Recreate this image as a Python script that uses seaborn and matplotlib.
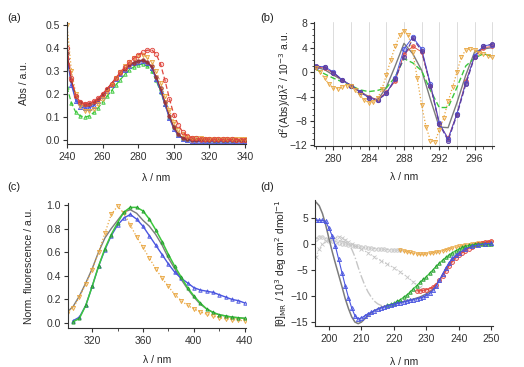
import numpy as np
import matplotlib
matplotlib.use("Agg")
import matplotlib.pyplot as plt
import seaborn as sns
from matplotlib.colors import to_rgba
from matplotlib.ticker import MultipleLocator, FormatStrFormatter

sns.set_theme(style="ticks")
plt.rcParams['font.family'] = ['Liberation Sans', 'DejaVu Sans']
plt.rcParams.update({
    'font.size': 7.5, 'axes.labelsize': 7.5, 'xtick.labelsize': 7.5, 'ytick.labelsize': 7.5,
    'axes.linewidth': 0.8, 'axes.edgecolor': '#333333',
    'xtick.major.size': 3, 'ytick.major.size': 3, 'xtick.minor.size': 1.8, 'ytick.minor.size': 1.8,
    'xtick.major.width': 0.8, 'ytick.major.width': 0.8, 'xtick.minor.width': 0.6, 'ytick.minor.width': 0.6,
    'xtick.color': '#333333', 'ytick.color': '#333333',
    'xtick.major.pad': 2.5, 'ytick.major.pad': 2.0,
})

RED = '#e0463e'
ORANGE = '#e9a640'
GREEN = '#3cc83c'
DGREEN = '#259a30'
BLUE = '#4a55e0'
PURPLE = '#5e3fa0'
BROWN = '#9a3434'
GREY = '#7c7c7c'
LGREY = '#c6c6c6'

# ---------------- (a) absorbance ----------------
wl_a = np.arange(240, 340.1, 2.5)
abs_red = [0.40, 0.27, 0.19, 0.165, 0.158, 0.16, 0.168, 0.182, 0.20, 0.222, 0.245, 0.27, 0.295, 0.318,
           0.338, 0.355, 0.37, 0.382, 0.39, 0.392, 0.375, 0.33, 0.26, 0.18, 0.11, 0.065, 0.035, 0.018,
           0.01, 0.007, 0.005, 0.005, 0.004, 0.004, 0.003, 0.003, 0.003, 0.003, 0.002, 0.002, 0.002]
abs_orange = [0.50, 0.30, 0.20, 0.15, 0.127, 0.125, 0.135, 0.155, 0.18, 0.21, 0.24, 0.27, 0.295, 0.32,
              0.34, 0.355, 0.365, 0.368, 0.36, 0.34, 0.30, 0.25, 0.19, 0.13, 0.08, 0.045, 0.025, 0.015,
              0.01, 0.008, 0.007, 0.006, 0.006, 0.005, 0.005, 0.005, 0.005, 0.004, 0.004, 0.004, 0.004]
abs_green = [0.23, 0.16, 0.12, 0.105, 0.10, 0.105, 0.12, 0.14, 0.165, 0.19, 0.215, 0.24, 0.263, 0.285,
             0.305, 0.318, 0.327, 0.33, 0.322, 0.30, 0.26, 0.21, 0.155, 0.10, 0.055, 0.025, 0.01, 0.005,
             0.003, 0.003, 0.003, 0.003, 0.002, 0.002, 0.002, 0.002, 0.002, 0.002, 0.002, 0.002, 0.002]
abs_blue = [0.36, 0.24, 0.17, 0.145, 0.138, 0.14, 0.15, 0.168, 0.19, 0.215, 0.24, 0.265, 0.287, 0.306,
            0.322, 0.333, 0.34, 0.342, 0.336, 0.315, 0.265, 0.215, 0.155, 0.095, 0.048, 0.02, 0.006, 0.0,
            -0.004, -0.006, -0.006, -0.006, -0.005, -0.005, -0.005, -0.005, -0.005, -0.005, -0.005, -0.005, -0.005]
abs_brown = [0.38, 0.26, 0.19, 0.165, 0.158, 0.158, 0.165, 0.18, 0.20, 0.222, 0.245, 0.27, 0.292, 0.31,
             0.325, 0.337, 0.345, 0.347, 0.34, 0.32, 0.275, 0.225, 0.165, 0.105, 0.055, 0.025, 0.01, 0.004,
             0.002, 0.001, 0.001, 0.0, 0.0, 0.0, 0.0, 0.0, 0.0, 0.0, 0.0, 0.0, 0.0]
abs_grey = [0.37, 0.25, 0.18, 0.152, 0.145, 0.147, 0.157, 0.175, 0.197, 0.22, 0.245, 0.27, 0.292, 0.31,
            0.326, 0.337, 0.344, 0.346, 0.34, 0.318, 0.27, 0.22, 0.16, 0.10, 0.052, 0.022, 0.008, 0.002,
            0.0, 0.0, 0.0, 0.0, 0.0, 0.0, 0.0, 0.0, 0.0, 0.0, 0.0, 0.0, 0.0]

# ---------------- (b) second derivative ----------------
wl_b = np.arange(278, 298.1, 1.0)
d2_grey = [0.8, 0.4, -0.5, -1.3, -2.2, -3.2, -4.0, -4.6, -2.5, 1.0, 4.7, 3.0, 0.3, -4.5, -9.0, -9.1,
           -5.0, -0.5, 3.3, 3.8, 4.0]
d2_purple = [1.0, 0.8, -0.1, -1.3, -2.2, -3.2, -4.2, -4.6, -3.5, -1.2, 2.5, 5.5, 3.5, -2.2, -8.5, -11.2,
             -7.0, -2.0, 2.5, 4.2, 4.6]
d2_blue = [0.9, 0.9, 0.0, -1.3, -2.2, -3.2, -4.2, -4.6, -3.5, -1.0, 3.8, 5.7, 3.8, -2.0, -8.3, -11.0,
           -6.8, -1.8, 2.7, 4.3, 4.5]
d2_red = [0.8, 0.7, -0.2, -1.3, -2.2, -3.2, -4.1, -4.5, -3.3, -1.5, 3.0, 4.2, 3.3, -2.2, -8.5, -10.8,
          -6.8, -1.5, 2.5, 4.0, 4.2]
d2_green = [0.5, -0.3, -1.0, -1.6, -2.2, -2.9, -3.2, -3.0, -2.6, -0.8, 2.2, 1.5, 0.2, -3.0, -5.8, -5.8,
            -2.5, 1.0, 2.3, 3.0, 2.6]
wl_b_orange = np.arange(278, 298.1, 0.5)
d2_orange = [0.6, 0.0, -1.0, -2.0, -2.6, -2.7, -2.5, -2.2, -2.3, -3.0, -3.8, -4.5, -5.0, -4.9, -4.3,
             -2.8, -0.5, 2.0, 4.2, 6.0, 6.8, 6.0, 3.3, -1.0, -5.4, -9.0, -11.2, -11.4, -9.5, -7.5,
             -4.8, -2.5, 0.0, 2.5, 3.6, 3.8, 3.6, 3.2, 2.9, 2.7, 2.4]

# ---------------- (c) fluorescence ----------------
wl_c = np.arange(300, 440.1, 5.0)
fl_orange = [0.08, 0.13, 0.22, 0.33, 0.45, 0.60, 0.76, 0.92, 0.99, 0.93, 0.83, 0.73, 0.64, 0.55, 0.46,
             0.38, 0.31, 0.24, 0.19, 0.15, 0.12, 0.095, 0.075, 0.06, 0.045, 0.035, 0.03, 0.022, 0.02]
fl_grey = [0.09, 0.14, 0.23, 0.34, 0.46, 0.60, 0.72, 0.80, 0.87, 0.94, 0.96, 0.93, 0.87, 0.82, 0.75,
           0.66, 0.55, 0.46, 0.37, 0.29, 0.22, 0.16, 0.12, 0.09, 0.07, 0.06, 0.05, 0.045, 0.04]
wl_c2 = np.arange(305, 440.1, 5.0)
fl_green = [0.01, 0.04, 0.15, 0.31, 0.48, 0.63, 0.75, 0.85, 0.94, 0.98, 0.98, 0.95, 0.88, 0.79, 0.69,
            0.58, 0.48, 0.39, 0.30, 0.23, 0.17, 0.12, 0.09, 0.07, 0.06, 0.05, 0.045, 0.04]
fl_blue = [0.02, 0.05, 0.15, 0.31, 0.48, 0.62, 0.74, 0.83, 0.89, 0.92, 0.88, 0.82, 0.74, 0.66, 0.58,
           0.50, 0.43, 0.38, 0.34, 0.30, 0.28, 0.27, 0.26, 0.24, 0.22, 0.20, 0.19, 0.17]

# ---------------- (d) CD ----------------
wl_d_grey = [195.5, 196, 197, 198, 199, 200, 201, 202, 203, 204, 205, 206, 207, 208, 209, 210, 211, 212,
             214, 216, 218, 220, 222, 224, 226, 228, 230, 232, 234, 236, 238, 240, 242, 244, 246, 248, 250]
cd_grey = [7.8, 8.0, 7.3, 5.8, 3.6, 1.0, -1.5, -3.8, -6.0, -8.2, -10.5, -12.4, -14.0, -15.0, -15.3, -15.0,
           -14.4, -13.7, -12.8, -12.2, -11.8, -11.5, -11.2, -10.9, -10.6, -10.2, -9.6, -8.7, -7.0, -4.8,
           -3.0, -1.8, -1.0, -0.4, -0.1, 0.1, 0.2]
wl_d_blue = [196, 197, 198, 199, 200, 201, 202, 203, 204, 205, 206, 207, 208, 209, 210, 211, 212, 213,
             214, 215, 216, 217, 218, 219, 220, 221, 222, 223, 224, 225, 226, 227, 228, 229, 230, 231, 232,
             233, 234, 235, 236, 237, 238, 239, 240, 242, 244, 246, 248, 250]
cd_blue = [4.5, 4.5, 4.5, 4.3, 3.0, 1.5, -0.5, -3.0, -5.5, -8.0, -10.3, -12.3, -13.8, -14.4, -14.2, -13.8,
           -13.4, -13.1, -12.8, -12.5, -12.3, -12.1, -11.9, -11.7, -11.6, -11.4, -11.3, -11.1, -11.0,
           -10.8, -10.7, -10.5, -10.4, -10.2, -9.9, -9.5, -8.9, -8.1, -7.0, -5.8, -4.6, -3.6, -2.8, -2.2,
           -1.8, -1.0, -0.5, -0.2, 0.0, 0.1]
wl_d_green = [218, 219, 220, 221, 222, 223, 224, 225, 226, 227, 228, 229, 230, 231, 232, 233, 234, 235,
              236, 237, 238, 239, 240, 241, 242, 243, 244, 245, 246, 247, 248, 249, 250]
cd_green = [-11.8, -11.6, -11.4, -11.0, -10.7, -10.2, -9.8, -9.2, -8.6, -8.0, -7.4, -6.8, -6.3, -5.6,
            -5.0, -4.3, -3.7, -3.1, -2.6, -2.1, -1.7, -1.3, -1.0, -0.7, -0.5, -0.3, -0.2, -0.1, 0.0,
            0.0, 0.0, -0.1, -0.1]
wl_d_red = [227, 228, 229, 230, 231, 232, 233, 234, 235, 236, 237, 238, 239, 240, 241, 242, 243, 244,
            245, 246, 247, 248, 249, 250]
cd_red = [-9.0, -9.0, -8.9, -8.8, -8.6, -8.3, -7.8, -7.0, -6.1, -5.2, -4.2, -3.4, -2.7, -2.2, -1.7,
          -1.3, -0.9, -0.6, -0.3, -0.1, 0.1, 0.3, 0.4, 0.5]
wl_d_orange = [222, 223, 224, 225, 226, 227, 228, 229, 230, 231, 232, 233, 234, 235, 236, 237, 238, 239,
               240, 241, 242, 243, 244, 245, 246, 247, 248, 249, 250]
cd_orange = [-1.2, -1.35, -1.5, -1.65, -1.8, -1.9, -2.0, -2.0, -1.9, -1.8, -1.7, -1.6, -1.5, -1.3, -1.1,
             -0.95, -0.8, -0.65, -0.5, -0.4, -0.3, -0.2, -0.1, 0.0, 0.1, 0.15, 0.2, 0.25, 0.3]
wl_d_lg1 = [196, 197, 198, 199, 200, 201, 202, 203, 204, 205, 206, 207, 208, 209, 210, 211, 212, 213, 214,
            215, 216, 217, 218, 219, 220, 221, 222]
cd_lg1 = [1.0, 1.3, 1.3, 1.0, 0.8, 0.6, 0.4, 0.2, 0.0, -0.1, -0.2, -0.3, -0.4, -0.5, -0.6, -0.7, -0.8,
          -0.85, -0.9, -0.95, -1.0, -1.05, -1.1, -1.15, -1.2, -1.2, -1.2]
wl_d_lg2 = [196, 197, 198, 199, 200, 201, 202, 203, 204, 205, 206, 207, 208, 210, 212, 214, 216, 218, 220,
            222, 224, 226, 228]
cd_lg2 = [-2.5, -1.0, 0.0, 0.5, 0.8, 1.0, 1.2, 1.4, 1.2, 0.8, 0.3, -0.1, -0.4, -1.0, -1.7, -2.5, -3.2,
          -3.9, -4.6, -5.4, -6.3, -7.3, -8.3]
wl_d_lg3 = [203, 204, 205, 206, 207, 208, 209, 210, 211, 212, 213, 214, 215, 216, 218]
cd_lg3 = [0.6, 0.5, 0.3, 0.0, -1.0, -2.5, -4.5, -6.3, -7.9, -9.2, -10.2, -11.0, -11.5, -11.8, -12.0]


def draw(ax, x, y, color, ls='-', marker=None, ms=3.0, lw=0.9, fa=0.3, mec=None, z=2):
    kw = dict(linestyle=ls, lw=lw)
    if marker is not None:
        kw.update(marker=marker, markersize=ms, markerfacecolor=to_rgba(color, fa),
                  markeredgecolor=mec or color, markeredgewidth=0.6)
    sns.lineplot(x=list(x), y=list(y), ax=ax, color=color, legend=False, errorbar=None,
                 sort=False, estimator=None, zorder=z, **kw)


def style(ax):
    sns.despine(ax=ax)
    ax.tick_params(direction='out')
    ax.set_xlabel('λ / nm')


fig = plt.figure(figsize=(5.24, 3.67), dpi=100)
W, H = 524.0, 367.0


def axes_px(x0, y0, x1, y1):
    return fig.add_axes([x0 / W, 1 - y1 / H, (x1 - x0) / W, (y1 - y0) / H])


# ---- (a)
ax = axes_px(67, 22, 246, 144)
draw(ax, wl_a, abs_grey, GREY, '-', None, lw=1.0)
draw(ax, wl_a, abs_green, GREEN, (0, (4, 2)), '^', ms=2.5)
draw(ax, wl_a, abs_blue, BLUE, '-', '^', ms=3)
draw(ax, wl_a, abs_brown, BROWN, '-', 'o', ms=2.5, fa=0.8)
draw(ax, wl_a, abs_orange, ORANGE, ':', 'v', ms=3)
draw(ax, wl_a, abs_red, RED, (0, (4, 2)), 'o', ms=3.2, fa=0.2)
ax.set_xlim(240, 340.5)
ax.set_ylim(-0.017, 0.513)
ax.xaxis.set_major_locator(MultipleLocator(20))
ax.yaxis.set_major_locator(MultipleLocator(0.1))
ax.yaxis.set_major_formatter(FormatStrFormatter('%.1f'))
style(ax)
ax.set_ylabel('Abs / a.u.')
ax.yaxis.set_label_coords(-0.215, 0.5)
ax.xaxis.set_label_coords(0.5, -0.235)

# ---- (b)
ax = axes_px(314, 22, 494, 146)
for g in range(280, 299, 2):
    ax.axvline(g, color='#dcdcdc', lw=0.7, zorder=0)
draw(ax, wl_b, d2_grey, GREY, '-', None, lw=1.0)
draw(ax, wl_b, d2_green, GREEN, (0, (4, 2)), None, lw=1.0)
draw(ax, wl_b, d2_red, RED, '-', 'o', ms=2.6, lw=0.6, fa=0.6)
draw(ax, wl_b, d2_blue, BLUE, '-', 'o', ms=3.2, lw=0.7, fa=0.35)
draw(ax, wl_b, d2_purple, PURPLE, (0, (4, 2)), 'o', ms=3, lw=0.9, fa=0.5)
draw(ax, wl_b_orange, d2_orange, ORANGE, ':', 'v', ms=3, lw=0.9)
ax.set_xlim(277.8, 298.2)
ax.set_ylim(-12.1, 8.2)
ax.xaxis.set_major_locator(MultipleLocator(4))
ax.xaxis.set_minor_locator(MultipleLocator(1))
ax.yaxis.set_major_locator(MultipleLocator(4))
ax.yaxis.set_minor_locator(MultipleLocator(1))
style(ax)
ax.set_ylabel('d$^2$(Abs)/dλ$^2$ / 10$^{-3}$ a.u.')
ax.yaxis.set_label_coords(-0.118, 0.5)
ax.xaxis.set_label_coords(0.5, -0.21)

# ---- (c)
ax = axes_px(68, 203, 246, 328)
draw(ax, wl_c, fl_grey, GREY, '-', None, lw=1.0)
draw(ax, wl_c, fl_orange, ORANGE, ':', 'v', ms=3)
draw(ax, wl_c2, fl_blue, BLUE, '-', '^', ms=2.5, lw=1.0)
draw(ax, wl_c2, fl_green, GREEN, '-', '^', ms=2.3, lw=1.1, mec=DGREEN, fa=0.5)
ax.set_xlim(301, 441)
ax.set_ylim(-0.042, 1.017)
ax.xaxis.set_major_locator(MultipleLocator(40))
ax.xaxis.set_minor_locator(MultipleLocator(20))
ax.yaxis.set_major_locator(MultipleLocator(0.2))
ax.yaxis.set_major_formatter(FormatStrFormatter('%.1f'))
style(ax)
ax.set_ylabel('Norm. fluorescence / a.u.')
ax.yaxis.set_label_coords(-0.19, 0.5)
ax.xaxis.set_label_coords(0.5, -0.216)

# ---- (d)
ax = axes_px(315, 200, 493, 326)
draw(ax, wl_d_lg1, cd_lg1, LGREY, ':', 'o', ms=2.5, lw=0.9, fa=0.2)
draw(ax, wl_d_lg2, cd_lg2, LGREY, ':', 'x', ms=2.5, lw=0.9)
draw(ax, wl_d_lg3, cd_lg3, LGREY, '-.', None, lw=1.0)
draw(ax, wl_d_grey, cd_grey, GREY, '-', None, lw=1.1)
draw(ax, wl_d_orange, cd_orange, ORANGE, ':', 'v', ms=2.6)
draw(ax, wl_d_red, cd_red, RED, '-', 'o', ms=2.8, lw=0.8, fa=0.2)
draw(ax, wl_d_green, cd_green, GREEN, '-', '^', ms=2.5, lw=0.8, mec=DGREEN, fa=0.5)
draw(ax, wl_d_blue, cd_blue, BLUE, '-', '^', ms=3, lw=0.8, fa=0.35)
ax.set_xlim(195.7, 250.5)
ax.set_ylim(-15.75, 8.4)
ax.xaxis.set_major_locator(MultipleLocator(10))
ax.yaxis.set_major_locator(MultipleLocator(5))
style(ax)
ax.set_ylabel('[θ]$_{\\mathrm{MR}}$ / 10$^3$ deg cm$^2$ dmol$^{-1}$')
ax.yaxis.set_label_coords(-0.145, 0.5)
ax.xaxis.set_label_coords(0.5, -0.246)

for txt, (px, py) in zip(['(a)', '(b)', '(c)', '(d)'], [(7, 18), (260, 18), (7, 187), (260, 187)]):
    fig.text(px / W, 1 - py / H, txt, fontsize=8, va='center', ha='left', color='#222222')

fig.savefig('out.png', dpi=100)
